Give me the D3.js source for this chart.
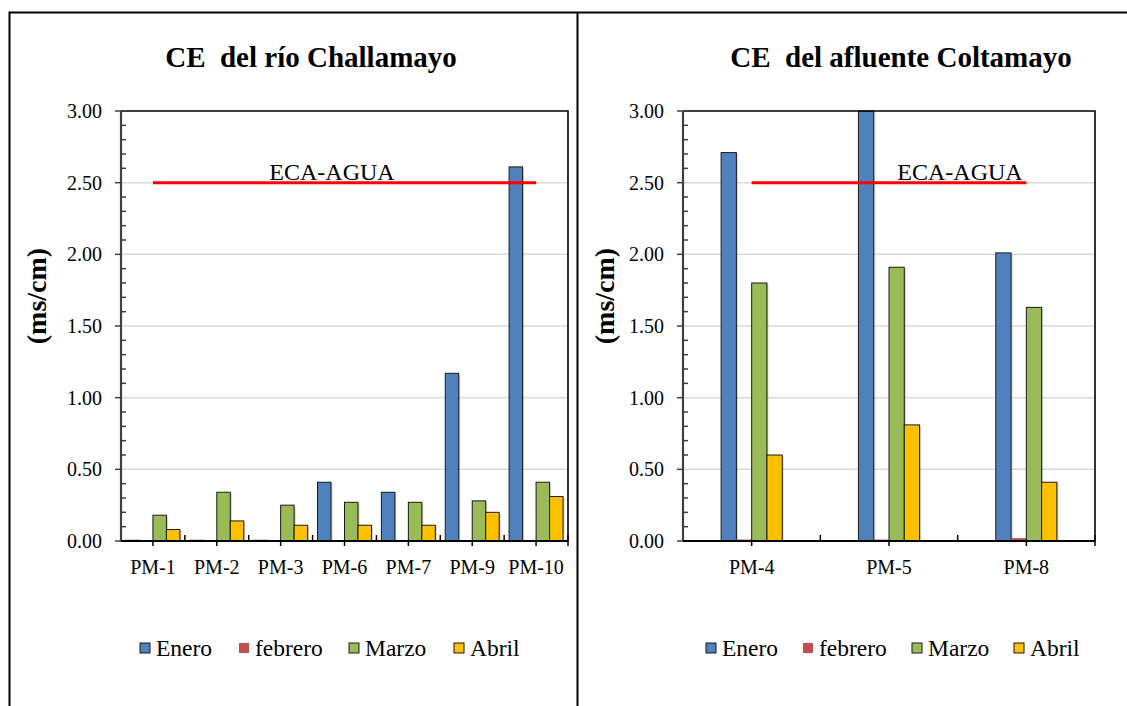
<!DOCTYPE html>
<html><head><meta charset="utf-8">
<script src="https://cdn.jsdelivr.net/npm/d3@7"></script>
<style>
html,body{margin:0;padding:0;background:#fff;}
svg text{font-family:"Liberation Serif","Times New Roman",Tinos,serif;white-space:pre;}
</style></head>
<body><svg id="c" width="1127" height="706"></svg>
<script>
// ---- data ----
const seriesNames = ["Enero", "febrero", "Marzo", "Abril"];
const seriesColors = ["#4f81bd", "#c0504d", "#9bbb59", "#ffc000"];
const yTicks = [0, 0.5, 1.0, 1.5, 2.0, 2.5, 3.0];
const ecaValue = 2.5;

const catsA = ["PM-1", "PM-2", "PM-3", "PM-6", "PM-7", "PM-9", "PM-10"];
const eneroA   = [0.005, 0.005, 0.005, 0.41, 0.34, 1.17, 2.61];
const febreroA = [0.003, 0.003, 0.003, 0.003, 0.003, 0.003, 0.005];
const marzoA   = [0.18, 0.34, 0.25, 0.27, 0.27, 0.28, 0.41];
const abrilA   = [0.08, 0.14, 0.11, 0.11, 0.11, 0.20, 0.31];

const catsB = ["PM-4", "PM-5", "PM-8"];
const eneroB   = [2.71, 3.00, 2.01];
const febreroB = [0.01, 0.01, 0.02];
const marzoB   = [1.80, 1.91, 1.63];
const abrilB   = [0.60, 0.81, 0.41];

const FONT = "Liberation Serif";
const svg = d3.select("#c");

// outer frame and divider
svg.append("rect").attr("x", 9.5).attr("y", 12.5).attr("width", 1140).attr("height", 720)
  .attr("fill", "none").attr("stroke", "#000").attr("stroke-width", 2);
svg.append("line").attr("x1", 577.5).attr("x2", 577.5).attr("y1", 12).attr("y2", 706)
  .attr("stroke", "#000").attr("stroke-width", 2);

function drawPanel(cfg) {
  const { cats, series, x0, x1, y0, y1, groupRatio, title, titleX, ecaX, ylabX, legendX } = cfg;
  const g = svg.append("g").attr("font-family", FONT);
  const y = d3.scaleLinear().domain([0, 3]).range([y1, y0]);
  const x = d3.scaleBand().domain(cats).range([x0, x1]).paddingInner(0).paddingOuter(0);
  const bw = x.bandwidth();
  const gw = bw * groupRatio;
  const xs = d3.scaleBand().domain(seriesNames).range([(bw - gw) / 2, (bw + gw) / 2]).padding(0);

  // gridlines
  g.selectAll("line.grid").data(yTicks.filter(t => t > 0 && t < 3)).enter().append("line")
    .attr("x1", x0).attr("x2", x1).attr("y1", d => y(d)).attr("y2", d => y(d))
    .attr("stroke", "#d9d9d9").attr("stroke-width", 1.5);

  // bars
  const rows = [];
  cats.forEach((c, i) => seriesNames.forEach((s, j) => rows.push({ c, s, j, v: Math.min(series[j][i], 3) })));
  g.selectAll("rect.sh").data(rows.filter(r => r.j !== 1 && r.v > 0.02)).enter().append("rect")
    .attr("x", d => x(d.c) + xs(d.s) + 1.5).attr("y", d => y(d.v) + 1.5)
    .attr("width", xs.bandwidth()).attr("height", d => y(0) - y(d.v) - 1.5)
    .attr("fill", "#000").attr("opacity", 0.18);
  g.selectAll("rect.bar").data(rows).enter().append("rect")
    .attr("x", d => x(d.c) + xs(d.s)).attr("y", d => y(d.v))
    .attr("width", xs.bandwidth()).attr("height", d => y(0) - y(d.v))
    .attr("fill", d => seriesColors[d.j])
    .attr("stroke", d => d.j === 1 ? "none" : "#1a1a1a").attr("stroke-width", 1);

  // plot border top/right
  g.append("path").attr("d", `M${x0},${y0}H${x1}V${y1}`).attr("fill", "none")
    .attr("stroke", "#000").attr("stroke-width", 1.6);

  // y axis
  const minor = d3.range(0, 3.0001, 0.1).map(v => Math.round(v * 10) / 10).filter(v => !yTicks.includes(v));
  g.selectAll("line.ymin").data(minor).enter().append("line")
    .attr("x1", x0).attr("x2", x0 + 5).attr("y1", d => y(d)).attr("y2", d => y(d))
    .attr("stroke", "#404040").attr("stroke-width", 1.5);
  g.selectAll("line.ymaj").data(yTicks).enter().append("line")
    .attr("x1", x0 - 6).attr("x2", x0 + 1).attr("y1", d => y(d)).attr("y2", d => y(d))
    .attr("stroke", "#404040").attr("stroke-width", 1.5);
  g.append("line").attr("x1", x0).attr("x2", x0).attr("y1", y0).attr("y2", y1)
    .attr("stroke", "#404040").attr("stroke-width", 2.2);
  g.selectAll("text.yl").data(yTicks).enter().append("text")
    .attr("font-family", FONT)
    .attr("x", x0 - 19).attr("y", d => y(d) + 7).attr("text-anchor", "end")
    .attr("font-size", 20).attr("fill", "#000").text(d3.format(".2f"));

  // x axis
  g.append("line").attr("x1", x0).attr("x2", x1).attr("y1", y1).attr("y2", y1)
    .attr("stroke", "#000").attr("stroke-width", 2);
  g.selectAll("line.xmaj").data(cats).enter().append("line")
    .attr("x1", d => x(d) + bw / 2).attr("x2", d => x(d) + bw / 2).attr("y1", y1).attr("y2", y1 + 5)
    .attr("stroke", "#000").attr("stroke-width", 1.5);
  g.selectAll("line.xmin").data(cats.slice(1)).enter().append("line")
    .attr("x1", d => x(d)).attr("x2", d => x(d)).attr("y1", y1 - 6).attr("y2", y1)
    .attr("stroke", "#000").attr("stroke-width", 1.5);
  g.append("line").attr("x1", x1).attr("x2", x1).attr("y1", y1 - 6).attr("y2", y1 + 5)
    .attr("stroke", "#000").attr("stroke-width", 1.5);
  g.selectAll("text.xl").data(cats).enter().append("text")
    .attr("font-family", FONT)
    .attr("x", d => x(d) + bw / 2).attr("y", 574).attr("text-anchor", "middle")
    .attr("font-size", 20).text(d => d);

  // ECA line
  g.append("line").attr("x1", x(cats[0]) + bw / 2).attr("x2", x(cats[cats.length - 1]) + bw / 2)
    .attr("y1", y(ecaValue)).attr("y2", y(ecaValue)).attr("stroke", "#ff0000").attr("stroke-width", 3);
  g.append("text").attr("font-family", FONT).attr("x", ecaX).attr("y", 180).attr("text-anchor", "middle")
    .attr("font-size", 24).text("ECA-AGUA");

  // title
  g.append("text").attr("font-family", FONT).attr("x", titleX).attr("y", 67).attr("text-anchor", "middle")
    .attr("font-size", 29).attr("font-weight", "bold").text(title);

  // y label
  g.append("text").attr("font-family", FONT).attr("transform", `translate(${ylabX},296) rotate(-90)`)
    .attr("text-anchor", "middle").attr("dominant-baseline", "central")
    .attr("font-size", 28).attr("font-weight", "bold").text("(ms/cm)");

  // legend
  const lg = g.selectAll("g.lg").data(seriesNames).enter().append("g")
    .attr("transform", (d, i) => `translate(${legendX[i]},648)`);
  lg.append("rect").attr("x", 0).attr("y", -5).attr("width", 10).attr("height", 10)
    .attr("fill", (d, i) => seriesColors[i])
    .attr("stroke", (d, i) => i === 1 ? "none" : "#1a1a1a").attr("stroke-width", 1);
  lg.append("text").attr("font-family", FONT).attr("x", 16).attr("y", 8).attr("font-size", 23.5).text(d => d);
}

drawPanel({
  cats: catsA, series: [eneroA, febreroA, marzoA, abrilA],
  x0: 121, x1: 568, y0: 111, y1: 541, groupRatio: 0.845,
  title: "CE  del río Challamayo", titleX: 311, ecaX: 332, ylabX: 36,
  legendX: [140, 239, 349, 454]
});
drawPanel({
  cats: catsB, series: [eneroB, febreroB, marzoB, abrilB],
  x0: 683, x1: 1095, y0: 111, y1: 541, groupRatio: 0.445,
  title: "CE  del afluente Coltamayo", titleX: 901, ecaX: 960, ylabX: 604,
  legendX: [706, 803, 912, 1014]
});
</script></body></html>
